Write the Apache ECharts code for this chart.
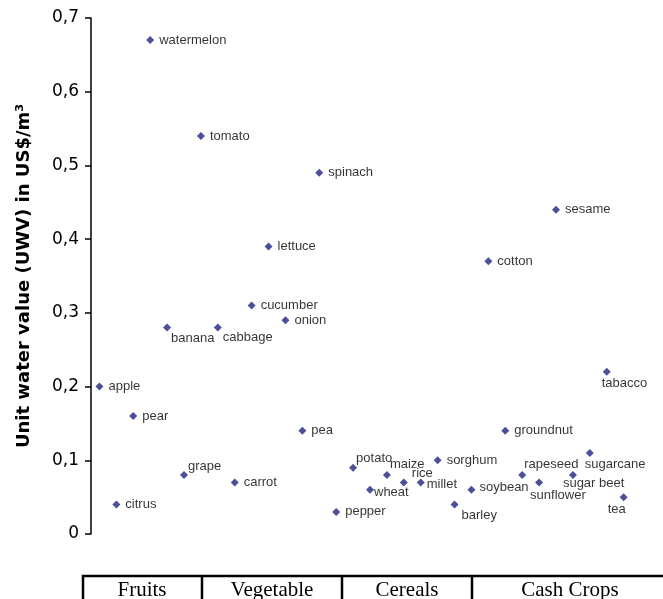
<!DOCTYPE html>
<html>
<head>
<meta charset="utf-8">
<script src="https://cdn.jsdelivr.net/npm/echarts@6/dist/echarts.min.js"></script>
<style>html,body{margin:0;padding:0;background:#fff;}#c{width:663px;height:599px;}</style>
</head>
<body>
<div id="c"></div>
<script>
const crops = ['apple','citrus','pear','watermelon','banana','grape','tomato','cabbage','carrot','cucumber','lettuce','onion','pea','spinach','pepper','potato','wheat','maize','rice','millet','sorghum','barley','soybean','cotton','groundnut','rapeseed','sunflower','sesame','sugar beet','sugarcane','tabacco','tea'];
const uwv = [0.20,0.04,0.16,0.67,0.28,0.08,0.54,0.28,0.07,0.31,0.39,0.29,0.14,0.49,0.03,0.09,0.06,0.08,0.07,0.07,0.10,0.04,0.06,0.37,0.14,0.08,0.07,0.44,0.08,0.11,0.22,0.05];
const groups = ['Fruits','Vegetable','Cereals','Cash Crops'];
const yTicks = [0,0.1,0.2,0.3,0.4,0.5,0.6,0.7];

// label placement (style only): offset of text start from marker centre
const labelOffset = {
  banana:[4,11], cabbage:[5,10], grape:[4,-9], potato:[3,-9], maize:[3,-11],
  rice:[8,-9], millet:[6,2], wheat:[4,3], barley:[7,11], soybean:[8,-2],
  sunflower:[-9,13], rapeseed:[2,-11], 'sugar beet':[-10,8], sugarcane:[-5,12],
  tea:[-16,12], tabacco:[-5,12]
};

const data = crops.map((n,i)=>{
  const off = labelOffset[n] || [9,0];
  return {name:n, value:[i+1, uwv[i]], label:{offset:off}};
});

const chart = echarts.init(document.getElementById('c'));
const tableTop = 576, tableLeft = 83, divs = [202,342,472], tableRight = 680;
const graphics = [];
graphics.push({type:'rect', shape:{x:tableLeft,y:tableTop,width:tableRight-tableLeft,height:40}, style:{fill:'none',stroke:'#000',lineWidth:2.5}});
divs.forEach(d=>graphics.push({type:'line', shape:{x1:d,y1:tableTop,x2:d,y2:620}, style:{stroke:'#000',lineWidth:2.5}}));
const centers = [142,272,407,570];
groups.forEach((g,i)=>graphics.push({type:'text', x:centers[i], y:tableTop+4, style:{text:g, font:'21px "Liberation Serif", serif', fill:'#000', textAlign:'center', textVerticalAlign:'top'}}));

chart.setOption({
  animation:false,
  backgroundColor:'#fff',
  grid:{left:91, top:18, bottom:65, right:14, containLabel:false},
  xAxis:{type:'value', min:0.5, max:33.5, show:false},
  yAxis:{type:'value', min:0, max:0.7, interval:0.1,
    name:'Unit water value (UWV) in US$/m³', nameLocation:'middle', nameGap:58,
    nameTextStyle:{fontFamily:'DejaVu Sans', fontSize:18, fontWeight:'bold', color:'#000'},
    axisLine:{show:true, lineStyle:{color:'#000', width:1.5}},
    axisTick:{show:true, inside:false, length:6, lineStyle:{color:'#000', width:1.5}},
    splitLine:{show:false},
    axisLabel:{color:'#000', fontSize:17, fontFamily:'DejaVu Sans', margin:12, padding:[3,0,0,0],
      formatter:v=>{const t=yTicks.find(x=>Math.abs(x-v)<1e-9); return t===0?'0':String(Math.round(v*10)/10).replace('.',',');}}
  },
  graphic:graphics,
  series:[{
    type:'scatter', symbol:'diamond', symbolSize:8,
    itemStyle:{color:'#1f237f'},
    label:{show:true, position:'inside', align:'left', verticalAlign:'middle',
      formatter:p=>p.name, color:'#000', fontSize:13, fontFamily:'Liberation Sans, Arial'},
    data:data
  }]
});
</script>
</body>
</html>
